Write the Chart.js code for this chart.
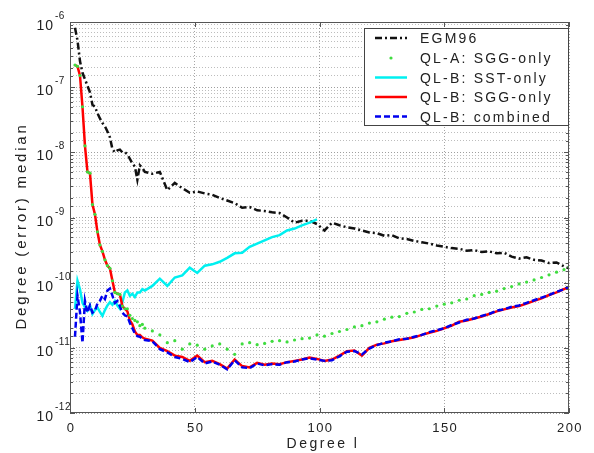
<!DOCTYPE html>
<html>
<head>
<meta charset="utf-8">
<script src="https://cdn.jsdelivr.net/npm/chart.js@4"></script>
<style>
  html, body { margin: 0; padding: 0; background: #fff; }
  canvas { display: block; }
</style>
</head>
<body>
<canvas id="myChart" width="594" height="453"></canvas>
<script>
// setup - degrees 2..30 every degree, then every 3rd degree up to 200
const degrees = [2,3,4,5,6,7,8,9,10,11,12,13,14,15,16,17,18,19,20,21,22,23,24,25,26,27,28,29,30,
  33,36,39,42,45,48,51,54,57,60,63,66,69,72,75,78,81,84,87,90,93,96,99,
  102,105,108,111,114,117,120,123,126,129,132,135,138,141,144,147,150,
  153,156,159,162,165,168,171,174,177,180,183,186,189,192,195,198,200];
const degreesSST = [2,3,4,5,6,7,8,9,10,11,12,13,14,15,16,17,18,19,20,21,22,23,24,25,26,27,28,29,30,
  33,36,39,42,45,48,51,54,57,60,63,66,69,72,75,78,81,84,87,90,93,96,99];

const egm96 = [8.13e-7,5.25e-7,2.51e-7,1.66e-7,1.32e-7,1.05e-7,8.32e-8,5.37e-8,5.01e-8,3.98e-8,
  3.31e-8,2.82e-8,2.51e-8,2.09e-8,1.70e-8,1.12e-8,1.0e-8,1.07e-8,1.10e-8,1.0e-8,
  1.0e-8,9.33e-9,7.94e-9,6.76e-9,6.03e-9,3.80e-9,6.31e-9,5.75e-9,5.01e-9,
  4.68e-9,5.01e-9,2.63e-9,3.39e-9,2.82e-9,2.40e-9,2.51e-9,2.34e-9,2.24e-9,2.0e-9,
  1.82e-9,1.66e-9,1.41e-9,1.45e-9,1.29e-9,1.26e-9,1.20e-9,1.17e-9,1.0e-9,8.32e-10,
  8.91e-10,8.91e-10,7.94e-10,6.31e-10,8.32e-10,7.59e-10,7.08e-10,6.76e-10,6.31e-10,5.89e-10,
  5.75e-10,5.25e-10,5.37e-10,4.79e-10,4.68e-10,4.37e-10,4.17e-10,3.98e-10,3.72e-10,3.55e-10,
  3.39e-10,3.31e-10,3.09e-10,3.16e-10,2.95e-10,3.02e-10,2.82e-10,2.88e-10,2.51e-10,2.34e-10,
  2.45e-10,2.24e-10,2.19e-10,2.0e-10,2.04e-10,1.78e-10,1.66e-10];

const qlaSGG = [2.19e-7,2.09e-7,1.51e-7,5.01e-8,1.26e-8,5.01e-9,4.79e-9,1.58e-9,1.12e-9,6.03e-10,
  3.80e-10,3.02e-10,2.24e-10,1.82e-10,1.66e-10,1.07e-10,7.08e-11,6.76e-11,6.61e-11,4.37e-11,
  3.98e-11,3.98e-11,3.16e-11,2.82e-11,2.63e-11,2.51e-11,2.19e-11,2.29e-11,2.0e-11,
  1.82e-11,1.58e-11,1.20e-11,1.29e-11,9.55e-12,1.15e-11,1.10e-11,9.55e-12,1.07e-11,1.15e-11,
  9.55e-12,7.94e-12,1.15e-11,1.20e-11,1.12e-11,1.17e-11,1.26e-11,1.29e-11,1.23e-11,1.32e-11,
  1.38e-11,1.41e-11,1.58e-11,1.51e-11,1.66e-11,1.78e-11,1.91e-11,2.09e-11,2.19e-11,2.40e-11,
  2.51e-11,2.75e-11,2.95e-11,3.02e-11,3.39e-11,3.55e-11,3.89e-11,3.98e-11,4.37e-11,4.68e-11,
  4.90e-11,5.37e-11,5.62e-11,6.31e-11,6.61e-11,7.08e-11,7.41e-11,8.13e-11,8.71e-11,9.55e-11,
  1.02e-10,1.10e-10,1.20e-10,1.32e-10,1.45e-10,1.58e-10,1.74e-10];

const qlbSST = [3.98e-11,1.07e-10,7.94e-11,4.90e-11,4.17e-11,3.72e-11,4.47e-11,3.31e-11,3.80e-11,4.17e-11,
  3.55e-11,3.09e-11,3.80e-11,4.47e-11,5.01e-11,4.57e-11,5.25e-11,4.47e-11,3.98e-11,5.01e-11,
  7.08e-11,7.59e-11,6.31e-11,6.76e-11,6.03e-11,7.08e-11,7.08e-11,7.94e-11,7.59e-11,
  8.91e-11,1.15e-10,8.91e-11,1.20e-10,1.29e-10,1.70e-10,1.41e-10,1.82e-10,1.91e-10,2.09e-10,
  2.40e-10,2.82e-10,2.88e-10,3.55e-10,3.98e-10,4.47e-10,5.01e-10,5.37e-10,6.31e-10,6.76e-10,
  7.59e-10,8.32e-10,9.33e-10];

const qlbSGG = [2.19e-7,2.09e-7,1.51e-7,5.01e-8,1.26e-8,5.01e-9,4.79e-9,1.58e-9,1.12e-9,6.03e-10,
  3.80e-10,3.02e-10,2.24e-10,1.82e-10,1.66e-10,1.07e-10,7.08e-11,6.76e-11,6.61e-11,4.37e-11,
  3.98e-11,3.63e-11,2.63e-11,2.29e-11,1.78e-11,1.58e-11,1.58e-11,1.45e-11,1.38e-11,
  1.29e-11,1.0e-11,8.91e-12,7.59e-12,7.24e-12,6.31e-12,7.59e-12,6.03e-12,6.31e-12,5.62e-12,
  4.79e-12,6.61e-12,5.25e-12,5.01e-12,5.89e-12,5.50e-12,5.75e-12,5.62e-12,6.03e-12,6.31e-12,
  6.61e-12,7.08e-12,6.76e-12,6.31e-12,6.61e-12,7.59e-12,8.91e-12,9.12e-12,7.59e-12,1.0e-11,
  1.12e-11,1.17e-11,1.26e-11,1.32e-11,1.38e-11,1.45e-11,1.58e-11,1.70e-11,1.82e-11,2.0e-11,
  2.19e-11,2.51e-11,2.63e-11,2.82e-11,3.02e-11,3.31e-11,3.63e-11,3.89e-11,4.17e-11,4.37e-11,
  4.79e-11,5.25e-11,5.75e-11,6.46e-11,7.08e-11,7.94e-11,8.51e-11];

const qlbCombined = [1.48e-11,6.31e-11,3.55e-11,1.20e-11,5.25e-11,3.47e-11,4.47e-11,3.47e-11,3.72e-11,4.79e-11,
  5.25e-11,6.31e-11,5.62e-11,7.59e-11,8.13e-11,6.31e-11,4.90e-11,5.25e-11,4.37e-11,3.47e-11,
  3.16e-11,3.02e-11,2.40e-11,2.0e-11,1.66e-11,1.51e-11,1.48e-11,1.38e-11,1.32e-11,
  1.26e-11,9.55e-12,8.51e-12,7.24e-12,6.76e-12,6.03e-12,7.24e-12,5.75e-12,6.17e-12,5.50e-12,
  4.68e-12,6.46e-12,5.01e-12,4.90e-12,5.75e-12,5.37e-12,5.62e-12,5.50e-12,6.03e-12,6.17e-12,
  6.61e-12,6.92e-12,6.61e-12,6.31e-12,6.46e-12,7.41e-12,8.71e-12,8.91e-12,7.94e-12,9.77e-12,
  1.10e-11,1.20e-11,1.26e-11,1.35e-11,1.38e-11,1.48e-11,1.58e-11,1.74e-11,1.86e-11,2.0e-11,
  2.24e-11,2.45e-11,2.69e-11,2.82e-11,3.09e-11,3.31e-11,3.72e-11,3.89e-11,4.27e-11,4.47e-11,
  4.90e-11,5.37e-11,5.89e-11,6.46e-11,7.24e-11,7.94e-11,8.71e-11];

const xTicks = [0, 50, 100, 150, 200];
const yDecades = [1e-12, 1e-11, 1e-10, 1e-9, 1e-8, 1e-7, 1e-6];
const yExponents = ['-12', '-11', '-10', '-9', '-8', '-7', '-6'];
const seriesLabels = ['EGM96', 'QL-A: SGG-only', 'QL-B: SST-only', 'QL-B: SGG-only', 'QL-B: combined'];

const pts = (xs, ys) => ys.map((v, i) => ({ x: xs[i], y: v }));
const FONT = '"Liberation Sans", Arial, sans-serif';

const data = {
  datasets: [
    { label: seriesLabels[0], data: pts(degrees, egm96), borderColor: '#111', borderWidth: 2.5,
      borderDash: [7, 3, 2, 3], pointRadius: 0, order: 4 },
    { label: seriesLabels[1], data: pts(degrees, qlaSGG), showLine: false, pointRadius: 1.6,
      pointBorderWidth: 0, pointBackgroundColor: '#3fdc3f', borderColor: '#3fdc3f', order: 0 },
    { label: seriesLabels[2], data: pts(degreesSST, qlbSST), borderColor: '#00f0f0', borderWidth: 2.5,
      pointRadius: 0, order: 3 },
    { label: seriesLabels[3], data: pts(degrees, qlbSGG), borderColor: '#ff0000', borderWidth: 2.5,
      pointRadius: 0, order: 2 },
    { label: seriesLabels[4], data: pts(degrees, qlbCombined), borderColor: '#0000ee', borderWidth: 2.5,
      borderDash: [6, 3], pointRadius: 0, order: 1 }
  ]
};

const isDecade = v => Math.abs(Math.log10(v) - Math.round(Math.log10(v))) < 1e-6;

// box, tick marks, axis texts and legend, drawn MATLAB-style
const frame = {
  id: 'frame',
  afterDraw(chart) {
    const { ctx, chartArea: { left, right, top, bottom }, scales: { x, y } } = chart;
    ctx.save();
    ctx.strokeStyle = '#555';
    ctx.lineWidth = 1;
    ctx.setLineDash([]);
    ctx.strokeRect(left + 0.5, top + 0.5, right - left - 1, bottom - top - 1);

    const seg = (x1, y1, x2, y2) => { ctx.beginPath(); ctx.moveTo(x1, y1); ctx.lineTo(x2, y2); ctx.stroke(); };
    y.ticks.forEach(t => {
      const py = Math.round(y.getPixelForValue(t.value)) + 0.5;
      const len = isDecade(t.value) ? 5 : 3;
      seg(left, py, left + len, py);
      seg(right - len, py, right, py);
    });
    xTicks.forEach(v => {
      const px = Math.round(x.getPixelForValue(v)) + 0.5;
      seg(px, bottom, px, bottom - 5);
      seg(px, top, px, top + 5);
    });

    ctx.fillStyle = '#222';
    // y tick labels: 10 with raised exponent
    yDecades.forEach((v, i) => {
      const py = y.getPixelForValue(v);
      ctx.letterSpacing = '1px';
      ctx.font = '14px ' + FONT;
      ctx.textAlign = 'right';
      ctx.textBaseline = 'alphabetic';
      ctx.fillText('10', 54, py + 8);
      ctx.letterSpacing = '0.5px';
      ctx.font = '10px ' + FONT;
      ctx.textAlign = 'left';
      ctx.fillText(yExponents[i], 55, py - 3);
    });
    // x tick labels
    ctx.letterSpacing = '1.5px';
    ctx.font = '13px ' + FONT;
    ctx.textAlign = 'center';
    xTicks.forEach(v => ctx.fillText(String(v), x.getPixelForValue(v) + 1, 432));

    // axis titles
    ctx.letterSpacing = '2.5px';
    ctx.font = '14px ' + FONT;
    ctx.fillText('Degree l', 323, 448);
    ctx.save();
    ctx.translate(26, 226);
    ctx.rotate(-Math.PI / 2);
    ctx.letterSpacing = '2.8px';
    ctx.font = '15px ' + FONT;
    ctx.fillText('Degree (error) median', 0, 0);
    ctx.restore();

    // legend
    const lx = 364, ly = 28, lw = 204, lh = 97;
    ctx.fillStyle = '#fff';
    ctx.fillRect(lx, ly, lw, lh);
    ctx.strokeStyle = '#444';
    ctx.strokeRect(lx + 0.5, ly + 0.5, lw, lh);
    const rows = [38, 58, 77.5, 97, 116.5];
    data.datasets.forEach((ds, i) => {
      const ry = rows[i];
      if (ds.showLine === false) {
        ctx.fillStyle = ds.pointBackgroundColor;
        ctx.beginPath();
        ctx.arc(391, ry, 1.6, 0, Math.PI * 2);
        ctx.fill();
      } else {
        ctx.strokeStyle = ds.borderColor;
        ctx.lineWidth = ds.borderWidth;
        ctx.setLineDash(ds.borderDash || []);
        seg(375, ry, 407, ry);
      }
      ctx.setLineDash([]);
      ctx.fillStyle = '#222';
      ctx.letterSpacing = '2.2px';
      ctx.font = '14px ' + FONT;
      ctx.textAlign = 'left';
      ctx.fillText(ds.label, 420, ry + 5);
    });
    ctx.restore();
  }
};

const gridColor = c => isDecade(c.tick.value) ? 'rgba(0,0,0,0.38)' : 'rgba(0,0,0,0.26)';

// config
const config = {
  type: 'line',
  data,
  options: {
    responsive: false,
    animation: false,
    devicePixelRatio: 1,
    layout: { padding: { left: 0, right: 25, top: 22, bottom: 0 } },
    plugins: { legend: { display: false }, tooltip: { enabled: false } },
    scales: {
      x: {
        type: 'linear', min: 0, max: 200,
        ticks: { display: false, stepSize: 50 },
        grid: { drawTicks: false, color: 'rgba(0,0,0,0.35)' },
        border: { display: false, dash: [1, 2] },
        afterFit: s => { s.height = 40; }
      },
      y: {
        type: 'logarithmic', min: 1e-12, max: 1e-6,
        ticks: { display: false },
        grid: { drawTicks: false, color: gridColor },
        border: { display: false, dash: [1, 2] },
        afterFit: s => { s.width = 70; }
      }
    }
  },
  plugins: [frame]
};

// render init block
const myChart = new Chart(document.getElementById('myChart'), config);
</script>
</body>
</html>
